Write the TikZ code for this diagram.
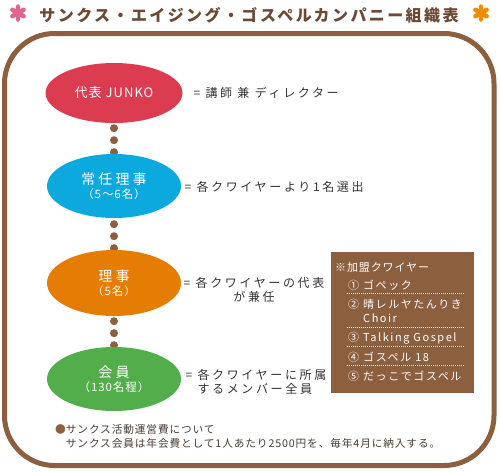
\documentclass[tikz,border=0pt]{standalone}
\usepackage{fontspec}
\setmainfont{Noto Sans CJK JP}
\newfontfamily\jpfont{Noto Sans CJK JP}[LetterSpace=8]
\newfontfamily\jptitle{Noto Sans CJK JP}[LetterSpace=15]
\newfontfamily\jpwide{Noto Sans CJK JP}[LetterSpace=22]
\newfontfamily\jpbox{Noto Sans CJK JP}[LetterSpace=14]
\newcommand\memsub{\jpfont\fontsize{11.5}{13}\selectfont}
\usetikzlibrary{shapes.geometric,backgrounds,positioning}

\definecolor{framebrown}{HTML}{8C5F3F}
\definecolor{titlebrown}{HTML}{6B4A35}
\definecolor{textgray}{HTML}{333333}
\definecolor{notebrown}{HTML}{4A3C32}
\definecolor{juncored}{HTML}{DC3C50}
\definecolor{jouninblue}{HTML}{0CA9DF}
\definecolor{rijiorange}{HTML}{E57D05}
\definecolor{kaiingreen}{HTML}{52AE4B}
\definecolor{starpink}{HTML}{E0668C}
\definecolor{starorange}{HTML}{F28C00}

\begin{document}
\begin{tikzpicture}[
    x=1pt, y=-1pt,
    font=\jpfont,
    member/.style={ellipse, inner sep=0pt, text=white, align=center, minimum width=134pt, minimum height=64pt},
    desc/.style={text=textgray, font=\jpwide\fontsize{12}{14.5}\selectfont},
    dotline/.style={draw=framebrown, line width=8pt, line cap=round, dash pattern=on 0pt off 12pt},
    boxitem/.style={anchor=west, text=white, align=left, inner sep=0pt, font=\jpbox\fontsize{11}{14}\selectfont},
    sepline/.style={white, line width=0.9pt, dash pattern=on 1pt off 1pt},
    star/.style={line width=4.5pt, line cap=round}
]
\useasboundingbox (0,0) rectangle (500,472);

% title
\node[text=titlebrown, font=\jptitle\bfseries\fontsize{16}{18}\selectfont] (title) at (249,15)
{サンクス・エイジング・ゴスペルカンパニー組織表};
\foreach \a in {90,30,150} {
  \draw[star, starpink] (18,13) ++(\a:6.5) -- ++(\a+180:13);
  \draw[star, starorange] (481,13) ++(\a:6.5) -- ++(\a+180:13);
}

% frame
\draw[framebrown, line width=5pt, rounded corners=50pt] (4.5,33.5) rectangle (494,465.5);

% members
\node[member, fill=juncored, minimum width=137pt, minimum height=60pt] (junko) at (114,93)
{\fontsize{13}{15}\selectfont 代表 JUNKO};
\node[member, fill=jouninblue] (jounin) at (114,186)
{\jpwide\fontsize{14}{16}\selectfont 常任理事\\[2pt]{\memsub （5～6名）}};
\node[member, fill=rijiorange, minimum height=66pt] (riji) at (114,283)
{\jpwide\fontsize{14}{16}\selectfont 理事\\[2pt]{\memsub （5名）}};
\node[member, fill=kaiingreen] (kaiin) at (114,379)
{\jpwide\fontsize{14}{16}\selectfont 会員\\[2pt]{\memsub （130名程）}};

\begin{scope}[on background layer]
\draw[dotline, shorten <=5pt] (junko.south) -- (jounin.north);
\draw[dotline, shorten <=6pt] (jounin.south) -- (riji.north);
\draw[dotline, shorten <=5pt] (riji.south) -- (kaiin.north);
\end{scope}

% descriptions
\node[desc, anchor=west] (descJunko) at (190,93) {= 講師 兼 ディレクター};
\node[desc, anchor=west] (descJounin) at (181,187) {= 各クワイヤーより1名選出};
\node[desc, align=center] (descRiji) at (254,290) {= 各クワイヤーの代表\\が兼任};
\node[desc, anchor=west, align=left] (descKaiin) at (182,382) {= 各クワイヤーに所属\\\phantom{= }するメンバー全員};

% member choirs
\node[fill=framebrown, minimum width=143pt, minimum height=141pt, inner sep=0pt] (kamei) at (402.5,322.5) {};
\node[boxitem, font=\jpfont\fontsize{11}{13}\selectfont] (kameiTitle) at (335,267) {※加盟クワイヤー};
\node[boxitem] (choirA) at (348,285) {① ゴペック};
\node[boxitem] (choirB) at (348,311) {② 晴レルヤたんりき\\\phantom{② }Choir};
\node[boxitem] (choirC) at (348,338) {③ Talking Gospel};
\node[boxitem] (choirD) at (348,357) {④ ゴスペル 18};
\node[boxitem] (choirE) at (348,376) {⑤ だっこでゴスペル};
\foreach \y in {293,327,346,365}
  \draw[sepline] (347,\y) -- (465,\y);

% fee note
\node[anchor=west, align=left, inner sep=0pt, text=notebrown, font=\jpfont\fontsize{10.7}{14}\selectfont] (feeNote) at (55,436)
{{\color{framebrown}●}サンクス活動運営費について\\\phantom{●}サンクス会員は年会費として1人あたり2500円を、毎年4月に納入する。};

\end{tikzpicture}
\end{document}
